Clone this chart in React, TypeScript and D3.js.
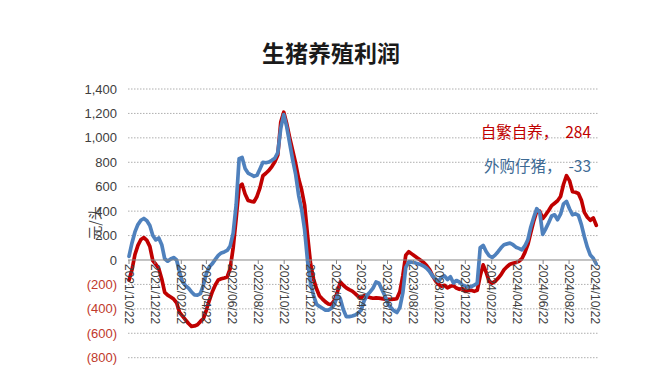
import React from "react";
import * as d3 from "d3";

const TITLE = "生猪养殖利润";
const Y_LABEL = "元/头";
const START = new Date(2021, 9, 22);
const END = new Date(2024, 9, 22);

const yTicks = [1400, 1200, 1000, 800, 600, 400, 200, 0, -200, -400, -600, -800];
const xTickDates = d3.range(0, 19).map((i) => new Date(2021, 9 + 2 * i, 22));

// weekly values starting 2021/10/22
const selfBred = [
  -165, -80, 45, 120, 168, 183, 160, 112, -5, -35, -70, -155, -265, -288, -303, -320, -350, -430, -460, -490,
  -520, -543, -540, -530, -503, -480, -410, -330, -260, -205, -163, -154, -147, -139, -70, 100, 340, 600, 620, 540,
  488, 480, 476, 520, 590, 690, 710, 733, 765, 805, 860, 1130, 1210, 1115, 1000, 895, 790, 665, 575, 450,
  200, -30, -155, -235, -295, -320, -343, -360, -365, -330, -265, -180, -207, -228, -243, -255, -275, -298, -310, -292,
  -300, -308, -313, -310, -312, -316, -320, -322, -322, -321, -316, -260, -130, 40, 68, 50, 32, 15, -3, -20,
  -45, -78, -130, -170, -200, -215, -207, -228, -215, -210, -230, -240, -233, -258, -250, -248, -257, -248, -130, -40,
  -100, -175, -190, -175, -150, -120, -80, -55, -35, -27, -20, -10, 10, 60, 125, 225, 320, 400, 400, 340,
  370, 405, 445, 465, 485, 520, 620, 690, 650, 560, 555, 545, 490, 390, 350, 325, 345, 284,
];
const purchased = [
  30, 140, 230, 290, 325, 340, 322, 282, 200, 165, 180, 125, 10, -10, 8, 20, 0, -100, -180, -210,
  -230, -262, -285, -287, -275, -205, -110, -55, -30, 5, 38, 58, 66, 78, 115, 220, 450, 830, 840, 750,
  712, 698, 685, 693, 745, 800, 796, 802, 816, 833, 880, 1080, 1190, 1090, 955, 820, 700, 530, 415, 250,
  -10, -190, -290, -362, -380, -395, -410, -410, -395, -365, -290, -318, -405, -464, -464, -458, -450, -434, -410, -335,
  -287, -262, -230, -180, -190, -243, -295, -360, -390, -415, -430, -390, -270, -60, -15, -18, -23, -30, -37, -50,
  -68, -95, -130, -155, -175, -140, -130, -160, -137, -188, -168, -180, -205, -213, -218, -218, -205, -191, 100, 120,
  70, 35, 20, 40, 68, 100, 125, 132, 138, 125, 105, 95, 83, 115, 165, 270, 350, 420, 390, 210,
  255, 305, 360, 370, 330, 375, 460, 480, 420, 370, 378, 365, 290, 190, 105, 40, 14, -33,
];

const seriesNames = ["自繁自养", "外购仔猪"];
const dates = selfBred.map((_, i) => d3.timeDay.offset(START, 7 * i));

const RED = "#C00000";
const BLUE = "#4F81BD";

export default function App() {
  const W = 666;
  const H = 378;
  const x = d3.scaleTime().domain([START, END]).range([129, 595]);
  const y = d3.scaleLinear().domain([-800, 1400]).range([357.7, 89]);
  const gx0 = 128;
  const gx1 = 599;

  const line = d3
    .line<number>()
    .x((_, i) => x(dates[i]))
    .y((d) => y(d));

  const fmt = (v: number) => (v < 0 ? `(${d3.format(",")(-v)})` : d3.format(",")(v));
  const xfmt = d3.timeFormat("%Y/%m/%d");
  const last = (a: number[]) => a[a.length - 1];

  return (
    <svg width={W} height={H} style={{ position: "absolute", left: 0, top: 0, background: "#fff" }}>
      <text
        x={331}
        y={62}
        textAnchor="middle"
        fontFamily="'Noto Sans CJK SC'"
        fontSize={23}
        fontWeight={700}
        fill="#1a1a1a"
      >
        {TITLE}
      </text>

      {yTicks.map((t) => (
        <g key={t}>
          {t !== 0 && (
            <line x1={gx0} x2={gx1} y1={y(t)} y2={y(t)} stroke="#9a9a9a" strokeWidth={0.8} strokeDasharray="1.5 1.5" />
          )}
          <text
            x={117}
            y={y(t)}
            dy="0.35em"
            textAnchor="end"
            fontFamily="'Liberation Sans', Arial"
            fontSize={13}
            fill={t < 0 ? "#C0392B" : "#404040"}
          >
            {fmt(t)}
          </text>
        </g>
      ))}

      <text
        transform={`translate(95,223) rotate(-90)`}
        textAnchor="middle"
        dy="0.35em"
        fontFamily="'Noto Sans CJK SC'"
        fontSize={14}
        fill="#404040"
      >
        {Y_LABEL}
      </text>

      <path d={line(selfBred) ?? ""} fill="none" stroke={RED} strokeWidth={3.7} strokeLinejoin="round" strokeLinecap="round" />
      <path d={line(purchased) ?? ""} fill="none" stroke={BLUE} strokeWidth={3.7} strokeLinejoin="round" strokeLinecap="round" />

      <line x1={gx0} x2={gx1} y1={y(0)} y2={y(0)} stroke="#868686" strokeWidth={1} />
      {xTickDates.map((d, i) => (
        <g key={i} transform={`translate(${x(d)},0)`}>
          <line y1={y(0)} y2={y(0) + 4} stroke="#868686" strokeWidth={1} />
          <text
            transform={`translate(0,${y(0) + 4}) rotate(90)`}
            dy="0.35em"
            textAnchor="start"
            fontFamily="'Liberation Sans', Arial"
            fontSize={12}
            fill="#404040"
          >
            {xfmt(d)}
          </text>
        </g>
      ))}

      <text x={591} y={133} dy="0.35em" textAnchor="end" fontFamily="'Noto Sans CJK SC'" fontSize={15.5} fill={RED} xmlSpace="preserve">
        {`${seriesNames[0]}，  ${last(selfBred)}`}
      </text>
      <text x={591} y={167} dy="0.35em" textAnchor="end" fontFamily="'Noto Sans CJK SC'" fontSize={15.5} fill="#3D6A94" xmlSpace="preserve">
        {`${seriesNames[1]}，  ${last(purchased)}`}
      </text>
    </svg>
  );
}
